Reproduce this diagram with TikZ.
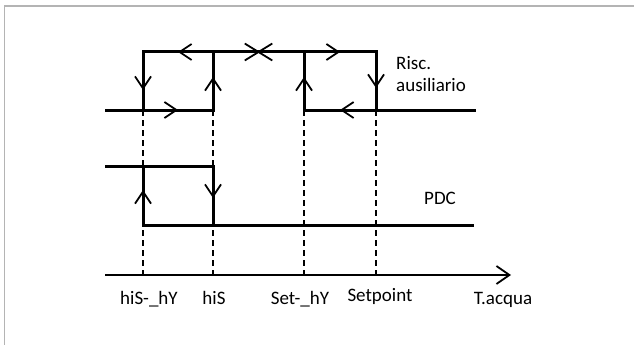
\documentclass[tikz,border=0pt]{standalone}
\usepackage{fontspec}
\setmainfont{Carlito}
\usetikzlibrary{arrows.meta,decorations.markings}
\definecolor{framegray}{HTML}{B4B4B4}

\begin{document}
\begin{tikzpicture}[x=1pt, y=-1pt,
  relay/.style={line width=3pt, line cap=rect},
  guide/.style={line width=1.1pt, dash pattern=on 6pt off 4pt},
  axisline/.style={line width=2.4pt, -{Straight Barb[length=13pt,width=18pt,line width=1.8pt]}},
  lbl/.style={font=\fontsize{19}{22}\selectfont, inner sep=0pt},
  chev/.tip={Straight Barb[length=12pt,width=16pt,line width=1.8pt]},
  mid/.style={postaction={decorate}, decoration={markings,
    mark=at position #1 with {\arrow{chev}}}},
  cross/.style={postaction={decorate}, decoration={markings,
    mark=at position 0.5 with {\draw[line width=1.8pt] (-13pt,-8pt) -- (13pt,8pt) (-13pt,8pt) -- (13pt,-8pt);}}}
]
  \useasboundingbox (0,0) rectangle (634,345);
  \draw[framegray, line width=1.2pt] (634,6) -- (4.5,6) -- (4.5,345);

  % Risc. ausiliario
  \coordinate (r0) at (106,110);
  \coordinate (r1b) at (143,110); \coordinate (r1t) at (143,52);
  \coordinate (r2b) at (213,110); \coordinate (r2t) at (213,52);
  \coordinate (r3b) at (304,110); \coordinate (r3t) at (304,52);
  \coordinate (r4b) at (376,110); \coordinate (r4t) at (376,52);
  \coordinate (r5) at (474,110);

  % PDC
  \coordinate (p0) at (106,166);
  \coordinate (p1t) at (143,166); \coordinate (p1b) at (143,225);
  \coordinate (p2t) at (213,166); \coordinate (p2b) at (213,225);
  \coordinate (p5) at (472,225);

  % asse
  \coordinate (a0) at (105,275);
  \coordinate (a5) at (511,275);
  \coordinate (t1) at (143,275); \coordinate (t2) at (213,275);
  \coordinate (t3) at (304,275); \coordinate (t4) at (376,275);

  \foreach \i in {1,...,4}
    \draw[guide] (r\i b) -- (t\i);

  \draw[relay] (r0) -- (r1b);
  \draw[relay, mid=35pt] (r1b) -- (r2b);
  \draw[relay, mid=33pt] (r2b) -- (r2t);
  \draw[relay, mid=35pt] (r2t) -- (r1t);
  \draw[relay, mid=38pt] (r1t) -- (r1b);
  \draw[relay, cross] (r2t) -- (r3t);
  \draw[relay, mid=36pt] (r3t) -- (r4t);
  \draw[relay, mid=36pt] (r4t) -- (r4b);
  \draw[relay, mid=36pt] (r4b) -- (r3b);
  \draw[relay, mid=33pt] (r3b) -- (r3t);
  \draw[relay] (r4b) -- (r5);

  \draw[relay] (p0) -- (p2t);
  \draw[relay, mid=32pt] (p2t) -- (p2b);
  \draw[relay, mid=35pt] (p1b) -- (p1t);
  \draw[relay] (p1b) -- (p5);

  \draw[axisline] (a0) -- (a5);

  \node[lbl, anchor=base west] (risc) at (396,70) {Risc.};
  \node[lbl, anchor=base west] (aus) at (396,91) {ausiliario};
  \node[lbl, anchor=base west] (pdc) at (424,204) {PDC};

  \node[lbl, anchor=base] (l1) at (149,304) {hiS-\_hY};
  \node[lbl, anchor=base] (l2) at (214,304) {hiS};
  \node[lbl, anchor=base] (l3) at (300,304) {Set-\_hY};
  \node[lbl, anchor=base] (l4) at (380,301) {Setpoint};
  \node[lbl, anchor=base] (l5) at (503,304) {T.acqua};
\end{tikzpicture}
\end{document}
